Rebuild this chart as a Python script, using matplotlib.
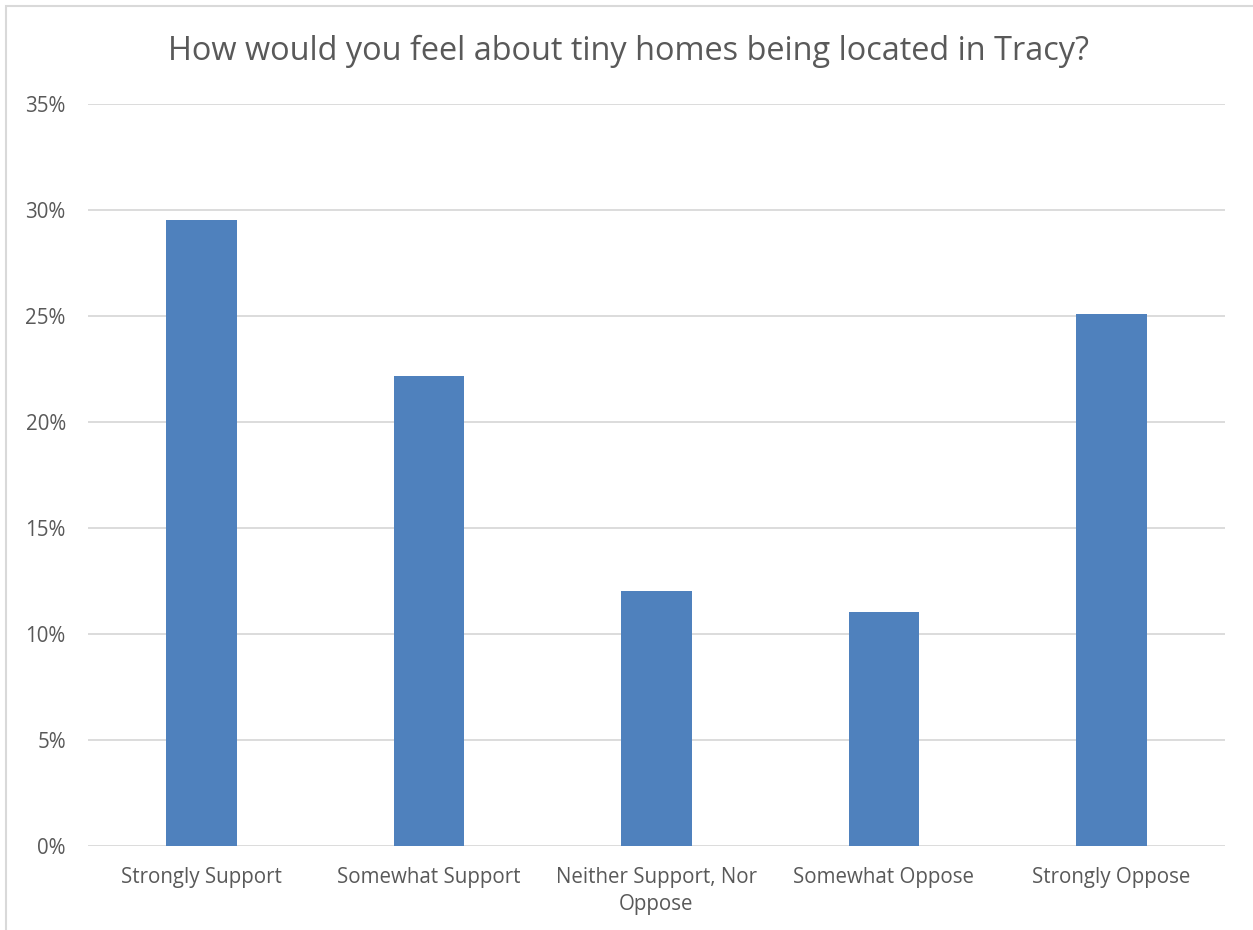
import matplotlib.pyplot as plt
from matplotlib.patches import Rectangle
from matplotlib.ticker import FuncFormatter, MultipleLocator

categories = ['Strongly Support', 'Somewhat Support', 'Neither Support, Nor\nOppose',
              'Somewhat Oppose', 'Strongly Oppose']
shares = [29.55, 22.15, 12.05, 11.05, 25.1]

TEXT = '#595959'
plt.rcParams['font.family'] = ['Open Sans', 'DejaVu Sans']

fig = plt.figure(figsize=(12.53, 9.30), dpi=100)
ax = fig.add_axes([88 / 1253, 1 - 846 / 930, (1225 - 88) / 1253, (846 - 104) / 930])

x = range(len(categories))
ax.bar(x, shares, width=0.31, color='#4F81BD', zorder=3)

ax.set_xlim(-0.5, len(categories) - 0.5)
ax.set_ylim(0, 35)
ax.yaxis.set_major_locator(MultipleLocator(5))
ax.yaxis.set_major_formatter(FuncFormatter(lambda v, _: f'{v:.0f}%'))
ax.grid(axis='y', color='#D9D9D9', linewidth=1.3, zorder=0)
ax.set_xticks(list(x))
ax.set_xticklabels(categories, linespacing=1.4)
ax.tick_params(axis='both', length=0, colors=TEXT, labelsize=14.8)
ax.tick_params(axis='y', pad=16)
ax.tick_params(axis='x', pad=15)
for s in ax.spines.values():
    s.set_visible(False)

fig.text(629 / 1253, 1 - 51 / 930, 'How would you feel about tiny homes being located in Tracy?',
         ha='center', va='center', color=TEXT, fontsize=23.4)

# chart area outline
fig.patches.append(Rectangle((6 / 1253, -0.1), 1.2, 1 - 6 / 930 + 0.1, transform=fig.transFigure,
                             fill=False, edgecolor='#D9D9D9', linewidth=1.5))

fig.savefig('out.png', dpi=100)
